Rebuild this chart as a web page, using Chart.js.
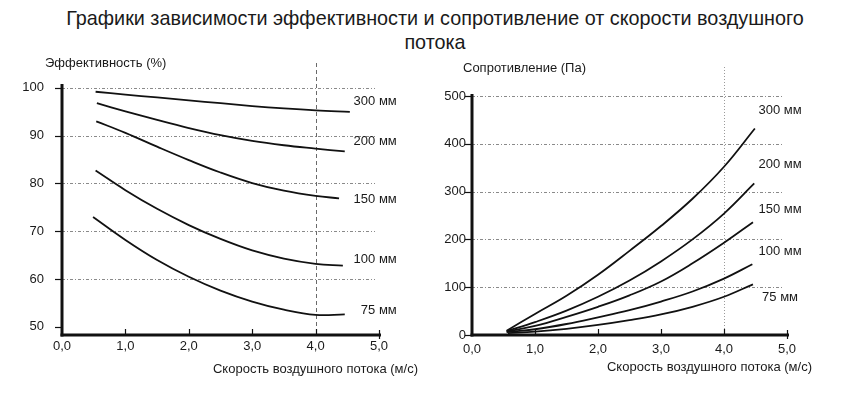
<!DOCTYPE html>
<html lang="ru">
<head>
<meta charset="utf-8">
<title>Эффективность и сопротивление</title>
<script src="https://cdn.jsdelivr.net/npm/chart.js@4"></script>
<style>
  body { margin: 0; width: 847px; height: 407px; background: #fff; position: relative; overflow: hidden;
         font-family: "Liberation Sans", Arial, sans-serif; }
  #title { position: absolute; left: 0; top: 6px; width: 870px; text-align: center;
           font-size: 19.8px; line-height: 24px; color: #1a1a1a; }
  .box { position: absolute; top: 0; }
  #left { left: 0; }
  #right { left: 430px; }
</style>
</head>
<body>
<div id="title">Графики зависимости эффективности и сопротивление от скорости воздушного<br>потока</div>
<div class="box" id="left"><canvas id="effChart" width="430" height="407"></canvas></div>
<div class="box" id="right"><canvas id="resChart" width="417" height="407"></canvas></div>
<script>
// --- data ---
const sizeLabels = ['300 мм', '200 мм', '150 мм', '100 мм', '75 мм'];
const speedTicks = [0, 1, 2, 3, 4, 5];
const speedTickLabels = ['0,0', '1,0', '2,0', '3,0', '4,0', '5,0'];
const speedGrid = [1.0, 1.5, 2.0, 2.5, 3.0, 3.5, 4.0]; // inner points, first/last x come from start/end lists

// Efficiency, %
const effTicks = [50, 60, 70, 80, 90, 100];
const effStart = [0.53, 0.55, 0.54, 0.53, 0.49];
const effEnd = [4.54, 4.46, 4.37, 4.43, 4.46];
const eff300 = [99.2, 98.6, 98.0, 97.4, 96.8, 96.2, 95.7, 95.3, 95.0];
const eff200 = [96.8, 95.1, 93.3, 91.6, 90.1, 88.9, 88.0, 87.3, 86.7];
const eff150 = [93.0, 90.6, 87.7, 84.9, 82.3, 80.1, 78.5, 77.4, 76.9];
const eff100 = [82.7, 78.6, 74.7, 71.3, 68.4, 66.0, 64.3, 63.2, 62.8];
const eff75 = [73.0, 68.2, 64.0, 60.5, 57.6, 55.3, 53.6, 52.5, 52.6];
const effLabelY = [97.1, 88.7, 76.6, 64.1, 53.4];

// Resistance, Pa
const resTicks = [0, 100, 200, 300, 400, 500];
const resStart = [0.55, 0.55, 0.55, 0.55, 0.57];
const resEnd = [4.49, 4.48, 4.46, 4.45, 4.46];
const res300 = [9, 44, 82, 126, 176, 228, 285, 352, 432];
const res200 = [8, 27, 51, 80, 114, 154, 200, 254, 317];
const res150 = [7, 19, 38, 59, 83, 112, 150, 193, 236];
const res100 = [6, 12, 23, 37, 52, 70, 91, 118, 148];
const res75 = [4, 7, 13, 21, 31, 43, 59, 80, 106];
const resLabelY = [469, 356, 262, 175, 78];

const FONT = '"Liberation Sans", Arial, sans-serif';
const INK = '#1a1a1a';

function buildSets(series, starts, ends) {
    return series.map((vals, i) => ({
        label: sizeLabels[i],
        data: vals.map((v, j) => ({
            x: j === 0 ? starts[i] : (j === vals.length - 1 ? ends[i] : speedGrid[j - 1]),
            y: v
        })),
        borderColor: '#111',
        borderWidth: 1.8,
        pointRadius: 0,
        tension: 0.4,
        fill: false
    }));
}

// grid, axes, marker line at 4.0, titles and curve labels
const framePlugin = {
    id: 'frame',
    beforeDatasetsDraw(chart, args, o) {
        const { ctx, chartArea: a, scales: { x, y } } = chart;
        ctx.save();
        ctx.lineWidth = 1;
        ctx.strokeStyle = '#8a8a8a';
        ctx.setLineDash([3, 2, 1, 2]);
        y.ticks.slice(1).forEach(t => {
            const py = Math.round(y.getPixelForValue(t.value)) + 0.5;
            ctx.beginPath(); ctx.moveTo(a.left, py); ctx.lineTo(a.right - 4, py); ctx.stroke();
        });
        const mx = Math.round(x.getPixelForValue(o.markAt)) + 0.5;
        ctx.strokeStyle = o.markColor;
        ctx.setLineDash(o.markDash);
        ctx.beginPath(); ctx.moveTo(mx, a.top - o.markRise); ctx.lineTo(mx, a.bottom); ctx.stroke();
        ctx.restore();
    },
    afterDraw(chart, args, o) {
        const { ctx, chartArea: a, scales: { x, y } } = chart;
        ctx.save();
        ctx.strokeStyle = '#111';
        // tick marks
        ctx.lineWidth = 1.2;
        y.ticks.forEach(t => {
            const py = Math.round(y.getPixelForValue(t.value)) + 0.5;
            ctx.beginPath(); ctx.moveTo(a.left - 7, py); ctx.lineTo(a.left, py); ctx.stroke();
        });
        x.ticks.forEach((t, i) => {
            if (i === 0) return;
            const px = Math.round(x.getPixelForValue(t.value)) + 0.5;
            const last = i === x.ticks.length - 1;
            ctx.beginPath();
            ctx.moveTo(px, a.bottom - (last ? 5 : 6));
            ctx.lineTo(px, a.bottom + (last ? 4 : 0));
            ctx.stroke();
        });
        // axes
        ctx.lineWidth = 3;
        ctx.beginPath(); ctx.moveTo(a.left, a.top - 2); ctx.lineTo(a.left, a.bottom + 1.5); ctx.stroke();
        ctx.beginPath(); ctx.moveTo(a.left - 1.5, a.bottom); ctx.lineTo(a.right + 2, a.bottom); ctx.stroke();
        // texts
        ctx.fillStyle = INK;
        ctx.font = '13px ' + FONT;
        ctx.textBaseline = 'middle';
        ctx.textAlign = 'left';
        ctx.fillText(o.yTitle, a.left + o.yTitleDx, a.top + o.yTitleDy);
        ctx.textAlign = 'right';
        ctx.fillText(o.xTitle, a.right + o.xTitleDx, a.bottom + o.xTitleDy);
        ctx.textAlign = o.labelAlign;
        sizeLabels.forEach((s, i) => {
            ctx.fillText(s, x.getPixelForValue(o.labelX), y.getPixelForValue(o.labelY[i]));
        });
        ctx.restore();
    }
};

function makeChart(id, cfg) {
    return new Chart(document.getElementById(id), {
        type: 'line',
        data: { datasets: cfg.datasets },
        plugins: [framePlugin],
        options: {
            responsive: false,
            animation: false,
            layout: { padding: cfg.padding },
            plugins: {
                legend: { display: false },
                tooltip: { enabled: false },
                frame: cfg.frame
            },
            scales: {
                x: {
                    type: 'linear', min: 0, max: 5,
                    afterBuildTicks: s => { s.ticks = speedTicks.map(v => ({ value: v })); },
                    afterFit: s => { s.height = 30; },
                    grid: { display: false, drawTicks: false },
                    border: { display: false },
                    ticks: {
                        padding: cfg.xPad,
                        color: INK,
                        font: { family: FONT, size: 13 },
                        maxRotation: 0,
                        callback: v => speedTickLabels[speedTicks.indexOf(v)]
                    }
                },
                y: {
                    type: 'linear', min: cfg.yMin, max: cfg.yMax,
                    afterBuildTicks: s => { s.ticks = cfg.yTicks.map(v => ({ value: v })); },
                    afterFit: s => { s.width = cfg.yWidth; },
                    grid: { display: false, drawTicks: false },
                    border: { display: false },
                    ticks: {
                        padding: cfg.yPad,
                        color: INK,
                        font: { family: FONT, size: 13 }
                    }
                }
            }
        }
    });
}

makeChart('effChart', {
    datasets: buildSets([eff300, eff200, eff150, eff100, eff75], effStart, effEnd),
    yMin: 48.3, yMax: 100.4, yTicks: effTicks,
    yWidth: 62, yPad: 18, xPad: 4,
    padding: { top: 86, right: 51, bottom: 42, left: 0 },
    frame: {
        markAt: 4, markColor: '#6a6a6a', markDash: [4, 3], markRise: 23,
        yTitle: 'Эффективность (%)', yTitleDx: -17, yTitleDy: -23,
        xTitle: 'Скорость воздушного потока (м/с)', xTitleDx: 39, xTitleDy: 34,
        labelX: 5.28, labelY: effLabelY, labelAlign: 'right'
    }
});

makeChart('resChart', {
    datasets: buildSets([res300, res200, res150, res100, res75], resStart, resEnd),
    yMin: 0, yMax: 500, yTicks: resTicks,
    yWidth: 42, yPad: 6, xPad: 7,
    padding: { top: 96, right: 60, bottom: 42, left: 0 },
    frame: {
        markAt: 4, markColor: '#9a9a9a', markDash: [1, 2], markRise: 29,
        yTitle: 'Сопротивление (Па)', yTitleDx: -9, yTitleDy: -28,
        xTitle: 'Скорость воздушного потока (м/с)', xTitleDx: 25, xTitleDy: 32,
        labelX: 4.89, labelY: resLabelY, labelAlign: 'center'
    }
});
</script>
</body>
</html>
